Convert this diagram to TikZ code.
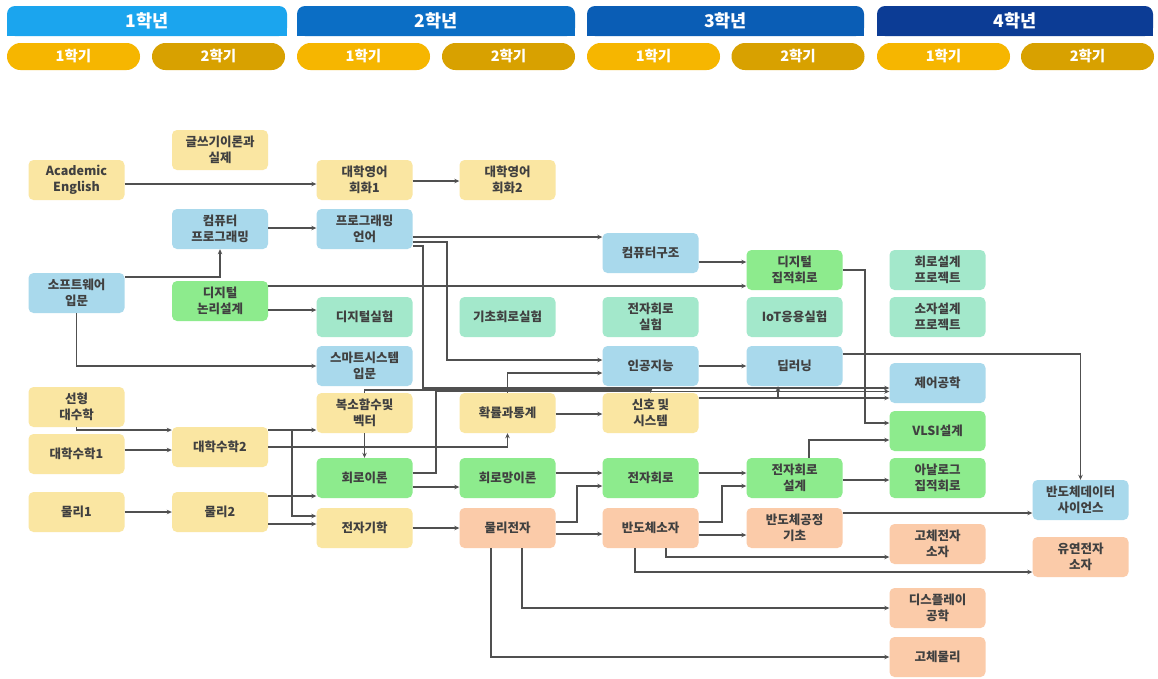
\documentclass[tikz,border=0pt]{standalone}
\usepackage{fontspec}
\newfontfamily\kr{Noto Sans CJK KR}
\usetikzlibrary{arrows.meta}
\definecolor{cY}{HTML}{FAE6A2}
\definecolor{cB}{HTML}{A9D9EC}
\definecolor{cG}{HTML}{8DEB8D}
\definecolor{cT}{HTML}{A3E8CB}
\definecolor{cO}{HTML}{FBCBA9}
\definecolor{txt}{HTML}{404040}
\definecolor{ln}{HTML}{505050}
\definecolor{yA}{HTML}{1BA5EE}
\definecolor{yB}{HTML}{0B6EC5}
\definecolor{yC}{HTML}{0A5DB5}
\definecolor{yD}{HTML}{0C3C95}
\definecolor{pA}{HTML}{F6B600}
\definecolor{pB}{HTML}{D8A100}
\begin{document}
\begin{tikzpicture}[x=1pt,y=-1pt,
  box/.style={rounded corners=5pt, minimum width=96pt, minimum height=40pt, inner sep=1pt, align=center, text=txt, font=\kr\bfseries\fontsize{12.5}{16}\selectfont},
  ylw/.style={box, fill=cY},
  blu/.style={box, fill=cB},
  grn/.style={box, fill=cG},
  tea/.style={box, fill=cT},
  org/.style={box, fill=cO},
  yr/.style={text=white, font=\kr\bfseries\fontsize{17.5}{19}\selectfont},
  pill/.style={rounded corners=13.5pt, minimum width=133pt, minimum height=27pt, inner sep=0pt, text=white, font=\kr\bfseries\fontsize{14.5}{16}\selectfont},
  conn/.style={draw=ln, line width=1.1pt, -{Stealth[length=5pt,width=4.5pt]}},
]
\useasboundingbox (0,0) rectangle (1158,678);
\fill[white] (0,0) rectangle (1158,678);

% year bars
\fill[yA, rounded corners=8pt] (7,6) rectangle (287,36); \fill[yA] (7,22) rectangle (287,36);
\fill[yB, rounded corners=8pt] (297,6) rectangle (575,36); \fill[yB] (297,22) rectangle (575,36);
\fill[yC, rounded corners=8pt] (587,6) rectangle (864,36); \fill[yC] (587,22) rectangle (864,36);
\fill[yD, rounded corners=8pt] (877,6) rectangle (1153,36); \fill[yD] (877,22) rectangle (1153,36);
\node[yr] (yr1) at (147,21) {1학년};
\node[yr] (yr2) at (436,21) {2학년};
\node[yr] (yr3) at (725.5,21) {3학년};
\node[yr] (yr4) at (1015,21) {4학년};

% semester pills
\node[pill, fill=pA] (s11) at (73.5,56.5) {1학기};
\node[pill, fill=pB] (s12) at (218.5,56.5) {2학기};
\node[pill, fill=pA] (s21) at (363.5,56.5) {1학기};
\node[pill, fill=pB] (s22) at (508.5,56.5) {2학기};
\node[pill, fill=pA] (s31) at (653.5,56.5) {1학기};
\node[pill, fill=pB] (s32) at (798,56.5) {2학기};
\node[pill, fill=pA] (s41) at (943.5,56.5) {1학기};
\node[pill, fill=pB] (s42) at (1087.5,56.5) {2학기};

% course nodes
\node[ylw] (gw) at (220,150) {글쓰기이론과\\실제};
\node[ylw] (ae) at (76.5,180) {Academic\\English};
\node[ylw] (ek1) at (364.5,180) {대학영어\\회화1};
\node[ylw] (ek2) at (507.5,180) {대학영어\\회화2};
\node[blu] (cp) at (220,229) {컴퓨터\\프로그래밍};
\node[blu] (pl) at (364.5,229) {프로그래밍\\언어};
\node[blu] (ca) at (650.5,253) {컴퓨터구조};
\node[grn] (dic) at (794.5,270) {디지털\\집적회로};
\node[tea] (cdp) at (937.5,270) {회로설계\\프로젝트};
\node[blu] (sw) at (76.5,293) {소프트웨어\\입문};
\node[grn] (dl) at (220,301) {디지털\\논리설계};
\node[tea] (dx) at (364.5,317) {디지털실험};
\node[tea] (bx) at (507.5,317) {기초회로실험};
\node[tea] (ex) at (650.5,317) {전자회로\\실험};
\node[tea] (iot) at (794.5,317) {IoT응용실험};
\node[tea] (sdp) at (937.5,317) {소자설계\\프로젝트};
\node[blu] (ss) at (364.5,366) {스마트시스템\\입문};
\node[blu] (ai) at (650.5,366) {인공지능};
\node[blu] (dp) at (794.5,366) {딥러닝};
\node[blu] (ce) at (937.5,383) {제어공학};
\node[ylw] (la) at (76.5,407) {선형\\대수학};
\node[ylw] (cf) at (364.5,413) {복소함수및\\벡터};
\node[ylw] (pr) at (507.5,413) {확률과통계};
\node[ylw] (sg) at (650.5,413) {신호 및\\시스템};
\node[grn] (vl) at (937.5,431) {VLSI설계};
\node[ylw] (m1) at (76.5,454) {대학수학1};
\node[ylw] (m2) at (220,447) {대학수학2};
\node[grn] (ct) at (364.5,478) {회로이론};
\node[grn] (cn) at (507.5,478) {회로망이론};
\node[grn] (ec) at (650.5,478) {전자회로};
\node[grn] (ecd) at (794.5,478) {전자회로\\설계};
\node[grn] (an) at (937.5,478) {아날로그\\집적회로};
\node[blu] (bd) at (1080.5,500) {반도체데이터\\사이언스};
\node[ylw] (p1) at (76.5,512) {물리1};
\node[ylw] (p2) at (220,512) {물리2};
\node[ylw] (em) at (364.5,528) {전자기학};
\node[org] (pe) at (507.5,528) {물리전자};
\node[org] (sd) at (650.5,528) {반도체소자};
\node[org] (sp) at (794.5,528) {반도체공정\\기초};
\node[org] (sse) at (937.5,544) {고체전자\\소자};
\node[org] (fe) at (1080.5,557) {유연전자\\소자};
\node[org] (dsp) at (937.5,608) {디스플레이\\공학};
\node[org] (ssp) at (937.5,657) {고체물리};

% connectors
\draw[conn] (ae.east |- 0,184) -- (ek1.west |- 0,184);
\draw[conn] (ek1.east |- 0,181) -- (ek2.west |- 0,181);
\draw[conn] (cp.east |- 0,228) -- (pl.west |- 0,228);
\draw[conn] (sw.east |- 0,277) -| (cp.south);
\draw[conn] (sw.south) |- (ss.west);
\draw[conn] (dl.east |- 0,310) -- (dx.west |- 0,310);
\draw[conn] (dl.east |- 0,286) -- (dic.west |- 0,286);
\draw[conn] (pl.east |- 0,237) -- (ca.west |- 0,237);
\draw[conn] (pl.east |- 0,242) -- (447,242) |- (ai.west |- 0,360);
\draw[conn] (pl.east |- 0,246) -- (423,246) |- (ce.west |- 0,388);
\draw[conn] (ca.east |- 0,262) -- (dic.west |- 0,262);
\draw[conn] (dic.east) -- (865,270) |- (vl.west |- 0,423);
\draw[conn] (ai.east) -- (dp.west);
\draw[conn] (dp.east |- 0,354) -| (bd.north);
\draw[conn] (pr.east |- 0,414) -- (sg.west |- 0,414);
\draw[conn] (cf.south) -- (ct.north);
\draw[conn] (m2.east |- 0,447) -| (pr.south);
\draw[conn] (la.south) |- (m2.west |- 0,430);
\draw[conn] (m1.east |- 0,450) -- (m2.west |- 0,450);
\draw[conn] (p1.east) -- (p2.west);
\draw[conn] (m2.east |- 0,430) -- (cf.west |- 0,430);
\draw[conn] (m2.east |- 0,430) -- (292,430) |- (em.west |- 0,516);
\draw[conn] (p2.east |- 0,496) -- (ct.west |- 0,496);
\draw[conn] (p2.east |- 0,524) -- (em.west |- 0,524);
\draw[conn] (ct.east |- 0,473) -- (436,473) |- (ce.west |- 0,391.5);
\draw[conn] (cf.north) -- (cf.north |- 0,390) -| (sg.north);
\draw[conn] (pr.north) |- (ai.west |- 0,373);
\draw[conn] (sg.east |- 0,398) -| (dp.south -| 778,0);
\draw[conn] (sg.east |- 0,398) -- (ce.west |- 0,398);
\draw[conn] (ct.east |- 0,487) -- (cn.west |- 0,487);
\draw[conn] (em.east |- 0,528) -- (pe.west |- 0,528);
\draw[conn] (cn.east |- 0,473) -- (ec.west |- 0,473);
\draw[conn] (pe.east |- 0,522) -- (577,522) |- (ec.west |- 0,486);
\draw[conn] (pe.east |- 0,534) -- (sd.west |- 0,534);
\draw[conn] (pe.south -| 522,0) |- (dsp.west);
\draw[conn] (pe.south -| 491,0) |- (ssp.west);
\draw[conn] (ec.east |- 0,473) -- (ecd.west |- 0,473);
\draw[conn] (sd.east |- 0,522) -- (722,522) |- (ecd.west |- 0,486);
\draw[conn] (sd.east |- 0,535) -- (sp.west |- 0,535);
\draw[conn] (sd.south -| 666,0) |- (sse.west |- 0,557);
\draw[conn] (sd.south -| 635,0) |- (fe.west |- 0,572);
\draw[conn] (sp.east |- 0,513) -- (bd.west |- 0,513);
\draw[conn] (ecd.north -| 809,0) |- (vl.west |- 0,440);
\draw[conn] (ecd.east |- 0,480) -- (an.west |- 0,480);
\end{tikzpicture}
\end{document}
